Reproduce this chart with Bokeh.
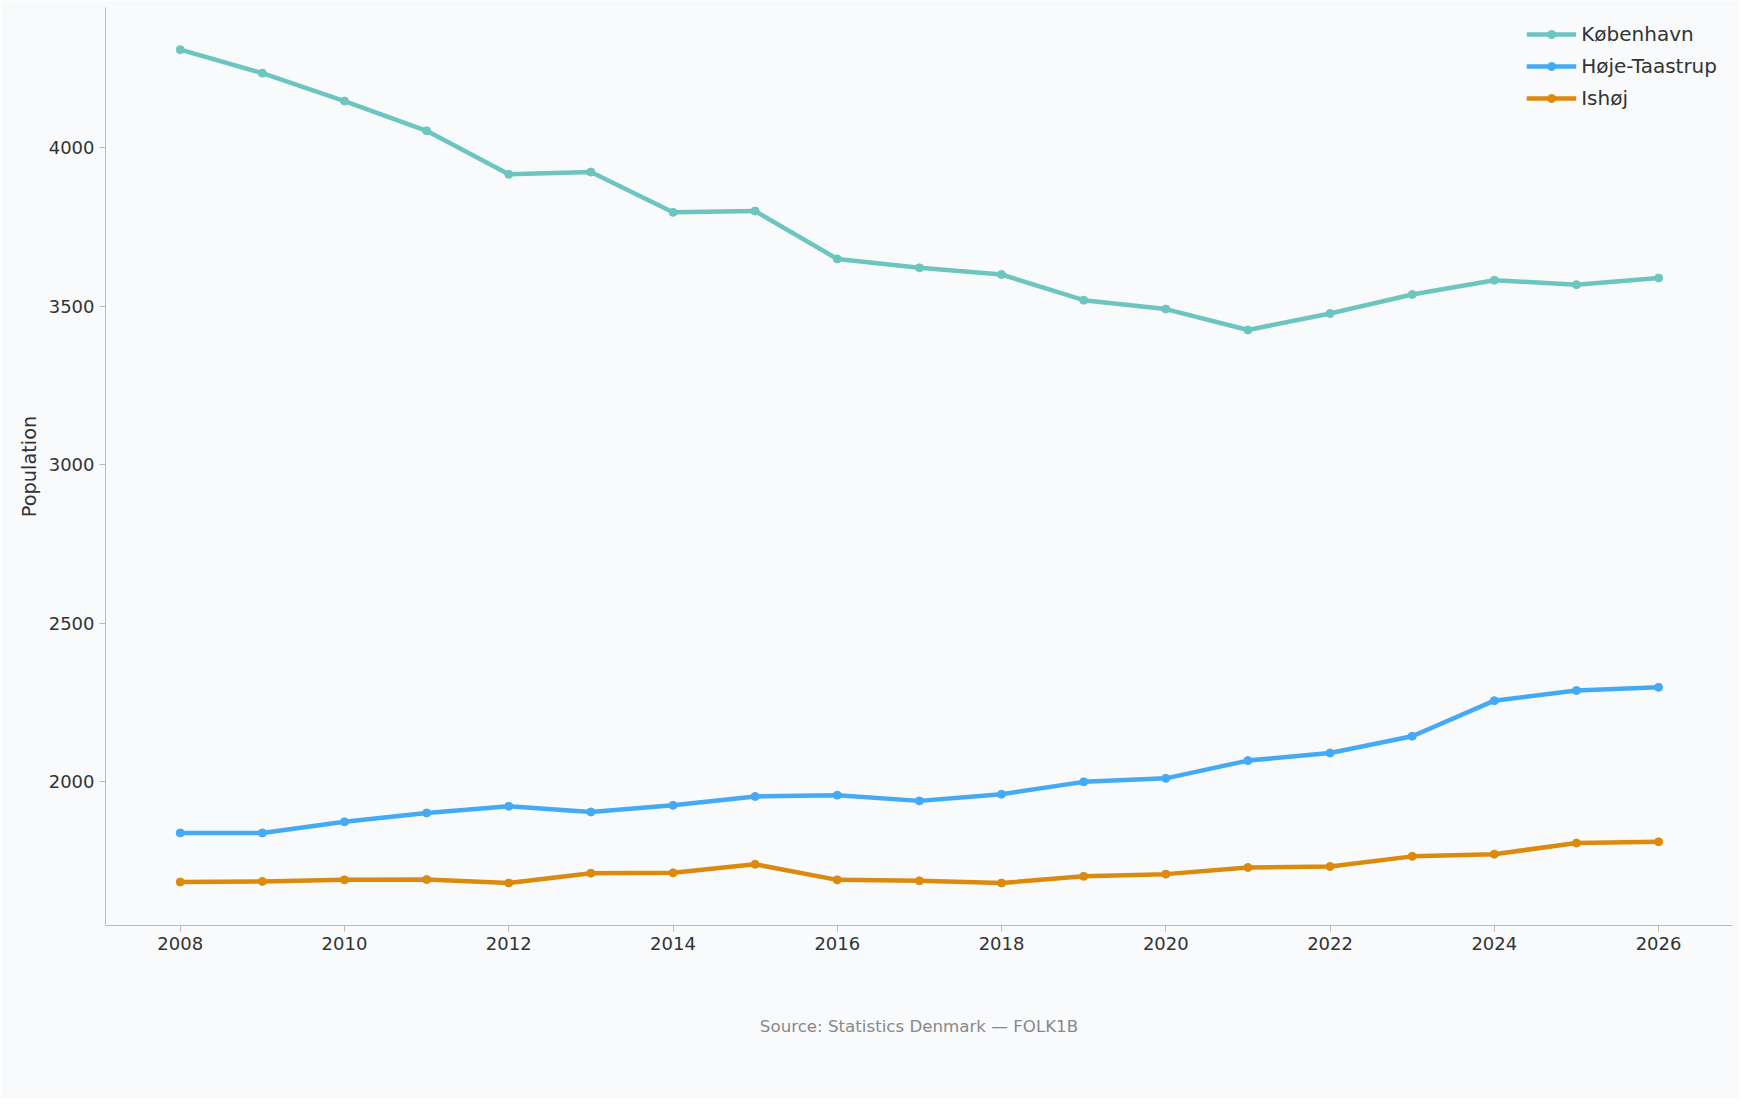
from bokeh.plotting import figure
from bokeh.models import Title, Legend, LegendItem, FixedTicker, Range1d
from bokeh.embed import file_html
from bokeh.resources import INLINE

years = list(range(2008, 2027))
kobenhavn = [4309, 4235, 4147, 4053, 3916, 3923, 3796, 3800, 3649, 3621, 3600, 3519, 3491, 3425, 3477, 3537, 3582, 3568, 3589]
hoje_taastrup = [1839, 1839, 1874, 1902, 1923, 1905, 1926, 1954, 1958, 1940, 1961, 2000, 2011, 2067, 2091, 2144, 2256, 2288, 2298]
ishoj = [1684, 1686, 1691, 1692, 1681, 1712, 1713, 1740, 1691, 1688, 1681, 1702, 1709, 1730, 1733, 1765, 1772, 1807, 1811]
names = ["København", "Høje-Taastrup", "Ishøj"]
colors = ["#6cc5bf", "#44aaf5", "#dc8a0e"]
BG = "#f8fafc"
FONT = "DejaVu Sans"

p = figure(width=1740, height=1098, output_backend="svg", toolbar_location=None,
           x_range=Range1d(2007.09, 2026.9), y_range=Range1d(1547, 4442),
           background_fill_color=BG, border_fill_color=BG,
           min_border_left=105, min_border_right=8, min_border_top=7, min_border_bottom=0)
p.outline_line_color = None
p.xgrid.visible = False
p.ygrid.visible = False

items = []
for name, vals, c in zip(names, [kobenhavn, hoje_taastrup, ishoj], colors):
    r1 = p.line(years, vals, line_color=c, line_width=4.5)
    r2 = p.scatter(years, vals, fill_color=c, line_color=c, size=8)
    items.append(LegendItem(label=name, renderers=[r1, r2]))

legend = Legend(items=items, location="top_right", background_fill_alpha=0,
                border_line_color=None, label_text_font=FONT, label_text_font_size="15pt",
                label_text_color="#333333", glyph_width=50, spacing=8, margin=15)
p.add_layout(legend)

p.xaxis.ticker = FixedTicker(ticks=list(range(2008, 2027, 2)))
p.yaxis.ticker = FixedTicker(ticks=[2000, 2500, 3000, 3500, 4000])
p.yaxis.axis_label = "Population"
for ax in [p.xaxis[0], p.yaxis[0]]:
    ax.axis_line_color = "#bbbbbb"
    ax.major_tick_line_color = "#bbbbbb"
    ax.minor_tick_line_color = None
    ax.major_tick_out = 6
    ax.major_tick_in = 0
    ax.major_label_text_font = FONT
    ax.major_label_text_font_size = "13.5pt"
    ax.major_label_text_color = "#333333"
    ax.axis_label_text_font = FONT
    ax.axis_label_text_font_size = "14.5pt"
    ax.axis_label_text_font_style = "normal"
    ax.axis_label_text_color = "#333333"

src = Title(text="Source: Statistics Denmark — FOLK1B", align="center",
            text_font=FONT, text_font_size="12.5pt", text_color="#888888",
            text_font_style="normal", standoff=125)
p.add_layout(src, "below")

open("out.html", "w").write(file_html(p, INLINE))
